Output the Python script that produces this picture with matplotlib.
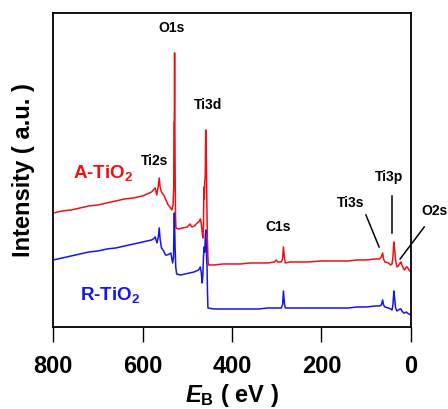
import matplotlib
matplotlib.use("Agg")
import matplotlib.pyplot as plt

plt.rcParams['font.family'] = ['Liberation Sans', 'DejaVu Sans']
plt.rcParams['mathtext.fontset'] = 'custom'
plt.rcParams['mathtext.rm'] = 'Liberation Sans'
plt.rcParams['mathtext.bf'] = 'Liberation Sans:bold'
plt.rcParams['mathtext.it'] = 'Liberation Sans:italic'
plt.rcParams['mathtext.bfit'] = 'Liberation Sans:bold:italic'

# A-TiO2 spectrum: binding energy (eV), intensity (a.u.)
a_energy = [800, 780, 760, 740, 720, 700, 680, 660, 640, 620, 600, 590, 580, 576, 572, 568.5,
            565, 563, 561, 558, 552, 548, 543, 539, 535, 532, 530.5, 530, 529.2, 528.6, 528, 527.3,
            526.5, 525.5, 520, 510, 500, 494, 490, 484, 478, 472, 471, 469, 467, 465.5, 464,
            463, 462, 461, 460, 459.3, 458.8, 458.2, 457.3, 456.3, 455.3, 454, 453, 440, 420, 400,
            380, 360, 340, 320, 305, 301, 298, 290, 287, 285, 283, 281, 270, 250, 230, 200,
            180, 160, 140, 120, 100, 80, 70, 66, 63, 61, 58, 50, 45, 42, 40, 38, 36, 34,
            31, 28, 24, 22, 20, 16, 14, 10, 8, 4, 0]
a_int = [114, 116, 117, 119, 121, 122, 124, 126, 128, 129, 131, 133, 135, 137, 139, 132,
         141, 149, 140, 135, 131, 127, 122, 120, 117, 122, 140, 205, 206, 274, 200, 150,
         110, 99, 98, 99, 100, 103, 100, 101, 104, 106, 108, 104, 95, 89, 100,
         140, 128, 145, 152, 180, 197, 188, 160, 120, 90, 70, 62, 62, 63, 63,
         63, 64, 64, 64, 65, 67, 65, 65, 68, 80, 70, 64, 65, 65, 65, 66,
         66, 66, 66, 67, 67, 68, 68, 70, 74, 68, 65, 64, 62, 63, 70, 85, 77, 66,
         60, 61, 64, 65, 62, 58, 57, 60, 60, 57, 55]

# R-TiO2 spectrum
r_energy = [800, 780, 760, 740, 720, 700, 680, 660, 640, 620, 600, 590, 580, 576, 572, 568,
            565, 563, 561, 558, 553, 549, 545, 540, 537, 533, 531, 530, 529.2, 528.4, 527.5,
            526, 524, 515, 505, 495, 485, 475, 471, 469, 467, 465.5, 464, 462.5, 461, 460,
            459, 458, 457, 456, 455, 454, 440, 420, 400, 380, 360, 340, 320, 300, 290,
            287, 285, 283, 281, 270, 250, 230, 200, 180, 160, 140, 120, 100, 80, 70, 66,
            63, 61, 58, 50, 45, 42, 40, 38, 36, 34, 31, 28, 24, 22, 20, 16, 14, 10, 8, 4, 0]
r_int = [67, 69, 71, 73, 75, 76, 78, 79, 81, 83, 85, 86, 87, 88, 90, 84,
         90, 99, 88, 79, 76, 72, 72, 73, 74, 64, 70, 100, 114, 100, 80,
         60, 53, 52, 53, 54, 55, 57, 60, 55, 44, 50, 70, 80, 75, 90,
         97, 85, 70, 60, 35, 19, 18, 18, 18, 18, 18, 18, 19, 19, 19,
         22, 36, 24, 19, 19, 19, 19, 19, 19, 19, 19, 20, 20, 21, 21, 22,
         27, 22, 20, 19, 18, 17, 22, 36, 28, 19, 16, 17, 18, 18, 16, 14, 14, 15, 14, 13, 12]

peak_labels = ["O1s", "Ti3d", "Ti2s", "C1s", "Ti3s", "Ti3p", "O2s"]
peak_label_x = [536, 453, 574, 297, 134, 48, -52]
peak_label_y = [299, 222, 166, 100, 124, 150, 116]

x_ticks = [800, 600, 400, 200, 0]

fig = plt.figure(figsize=(4.48, 4.09), dpi=100)
ax = fig.add_axes([0.119, 0.2005, 0.798, 0.768])

ax.plot(a_energy, a_int, color='#ee1111', lw=1.1)
ax.plot(r_energy, r_int, color='#1515ee', lw=1.1)

ax.set_xlim(800, 0)
ax.set_ylim(0, 314)
ax.set_xticks(x_ticks)
ax.set_xticklabels([str(t) for t in x_ticks], fontsize=17, fontweight='bold')
ax.set_yticks([])
ax.tick_params(axis='x', direction='out', length=11, width=1.0, pad=9)
for s in ax.spines.values():
    s.set_linewidth(1.3)

for lab, x, y in zip(peak_labels, peak_label_x, peak_label_y):
    ax.text(x, y, lab, fontsize=10, fontweight='bold', ha='center', va='center', clip_on=False)

# leader lines
ax.plot([100.5, 71], [112, 80], color='black', lw=1.1)
ax.plot([42, 42], [131, 94], color='black', lw=1.1)
ax.plot([-30, 24], [100, 68], color='black', lw=1.1, clip_on=False)

ax.text(689, 154, r'A-TiO$_\mathbf{2}$', color='#ee1111', fontsize=13.5, fontweight='bold',
        ha='center', va='center')
ax.text(674, 32, r'R-TiO$_\mathbf{2}$', color='#1515ee', fontsize=13.5, fontweight='bold',
        ha='center', va='center')

ax.set_ylabel('Intensity ( a.u. )', fontsize=17, fontweight='bold', labelpad=13)
ax.set_xlabel(r'$\mathbfit{E}_\mathbf{B}$ ( eV )', fontsize=17, fontweight='bold', labelpad=3)

fig.savefig('out.png', dpi=100)
